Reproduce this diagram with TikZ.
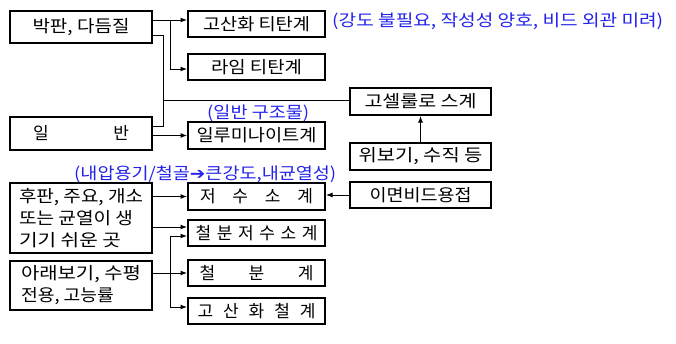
\documentclass[tikz,border=0pt]{standalone}
\usepackage{fontspec}
\usepackage{graphicx}
\setmainfont{Noto Sans CJK KR}
\newfontfamily\dvfont{DejaVu Sans}
\usetikzlibrary{arrows.meta,calc}
\definecolor{noteblue}{RGB}{35,35,235}
\newsavebox\fitbox
\newcommand\fitw[2]{\sbox\fitbox{#2}\pgfmathsetmacro\fsx{#1/\the\wd\fitbox}\scalebox{\fsx}[1]{\usebox\fitbox}}
\newcommand\spr[2]{\makebox[#1pt][s]{#2}}
\begin{document}
\begin{tikzpicture}[x=1pt,y=-1pt,
  box/.style={draw=black,line width=2pt,inner sep=0pt,font=\fontsize{17}{22}\selectfont,text=black},
  lbox/.style={box,minimum width=142pt},
  mbox/.style={box,minimum width=137pt,minimum height=26pt},
  rbox/.style={box,minimum width=141pt,minimum height=27pt},
  conn/.style={line width=1pt,draw=black},
  arr/.style={conn,-{Latex[length=6.5pt,width=5pt]}},
  note/.style={inner sep=0pt,text=noteblue,font=\fontsize{16.5}{18}\selectfont,anchor=west}]
\useasboundingbox (0,0) rectangle (676,343);
\fill[white] (0,0) rectangle (676,343);
% left boxes
\node[lbox,minimum height=32pt] (n1) at (81,27) {\fitw{97}{박판, 다듬질}};
\node[lbox,minimum height=33pt] (n2) at (81,133.5) {\spr{96}{일 반}};
\node[lbox,minimum height=70pt,align=left] (n3) at (81,218) {\raisebox{-2pt}{\fitw{124}{후판, 주요, 개소}}\\\raisebox{-2pt}{\fitw{114}{또는 균열이 생}}\\\raisebox{-2pt}{\fitw{102}{기기 쉬운 곳}}};
\node[lbox,minimum height=49pt,align=left] (n4) at (81,285.5) {\fitw{120}{아래보기, 수평}\\\fitw{93}{전용, 고능률}};
% middle boxes
\node[mbox] (m1) at (256.5,24) {\fitw{107}{고산화 티탄계}};
\node[mbox] (m2) at (256.5,67) {\fitw{91}{라임 티탄계}};
\node[mbox,minimum height=27pt] (m3) at (256.5,135.5) {\fitw{120}{일루미나이트계}};
\node[mbox,minimum height=27pt] (m4) at (256.5,196.5) {\spr{113}{저 수 소 계}};
\node[mbox] (m5) at (256.5,233) {\spr{122}{철 분 저 수 소 계}};
\node[mbox] (m6) at (256.5,273) {\spr{114}{철 분 계}};
\node[mbox] (m7) at (256.5,311) {\spr{118}{고 산 화 철 계}};
% right boxes
\node[rbox] (r1) at (420.5,101.5) {\fitw{112}{고셀룰로 스계}};
\node[rbox] (r2) at (420.5,156.5) {\fitw{124}{위보기, 수직 등}};
\node[rbox,minimum height=26pt] (r3) at (420.5,195) {\fitw{102}{이면비드용접}};
% notes
\node[note] (b1) at (332,21) {\fitw{331}{(강도 불필요, 작성성 양호, 비드 외관 미려)}};
\node[note] (b2) at (207,113) {\fitw{102}{(일반 구조물)}};
\node[note] (b3) at (74,174) {\fitw{262}{(내압용기/철골{\dvfont\bfseries ➔}큰강도,내균열성)}};
% junctions
\coordinate (j1) at (170,20);
\coordinate (j2) at (163,35);
\coordinate (j3) at (163,126);
\coordinate (j4) at (170,236);
\coordinate (j5) at (170,307);
\coordinate (c7) at (0,227);
\coordinate (c2) at (0,100);
% connectors
\draw[arr] (n1.east |- j1) -- (m1.west |- j1);
\draw[arr] (j1) |- ([yshift=-2pt]m2.west);
\draw[conn] (n1.east |- j2) -- (j2) -- (j3) -- (n2.east |- j3);
\draw[conn] (j2 |- c2) -- (r1.west |- c2);
\draw[arr] (n2.east |- m3.west) -- (m3.west);
\draw[arr] (r2.north) -- (r1.south);
\draw[arr] (n3.east |- m4.west) -- (m4.west);
\draw[arr] (r3.west) -- (m4.east |- r3.west);
\draw[arr] (n3.east |- c7) -- (m5.west |- c7);
\draw[arr] (n4.east |- m6.west) -- (m6.west);
\draw[arr] (j5) -- (j4) -- (m5.west |- j4);
\draw[arr] (j5) -- (m7.west |- j5);
\end{tikzpicture}
\end{document}
